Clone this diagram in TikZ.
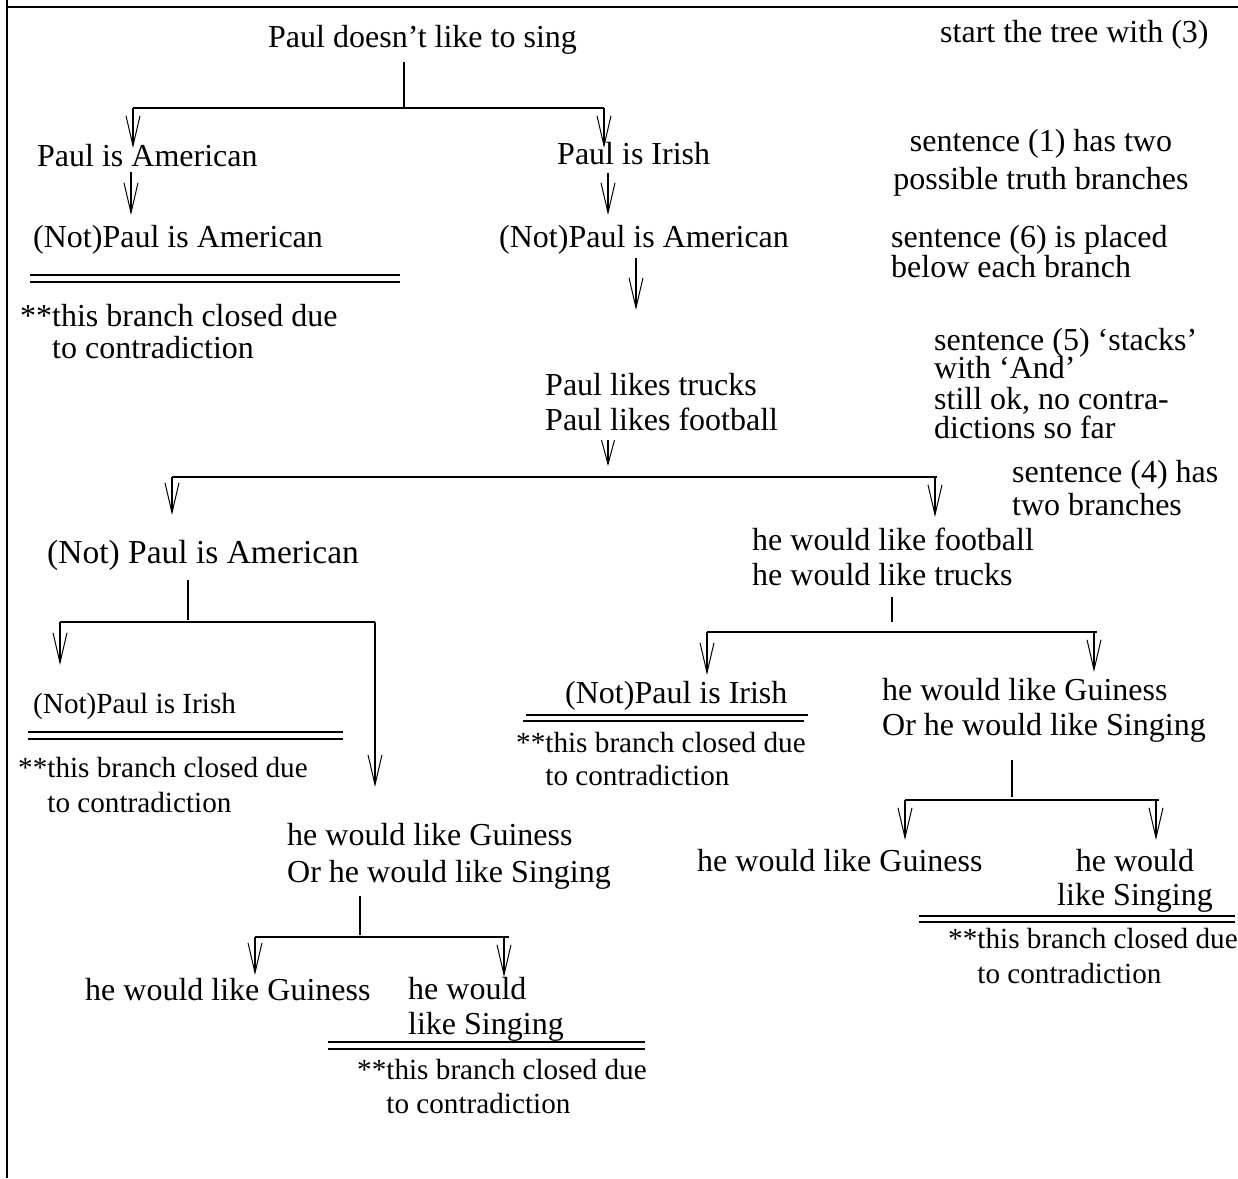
\documentclass[tikz,border=0pt]{standalone}
\usepackage{fontspec}
\setmainfont{Liberation Serif}
\usetikzlibrary{arrows.meta}
\begin{document}
\begin{tikzpicture}[x=1pt,y=-1pt,
  txt/.style={inner sep=0pt, anchor=base west, align=left, font=\fontsize{32}{35}\selectfont},
  txtc/.style={inner sep=0pt, anchor=base, align=center, font=\fontsize{32}{35}\selectfont},
  small/.style={inner sep=0pt, anchor=base west, align=left, font=\fontsize{29.2}{34}\selectfont},
  link/.style={line width=1.6pt},
  arr/.style={line width=1.6pt, -{Straight Barb[length=30pt,width=14pt,line width=1pt]}},
  arrshort/.style={line width=1.6pt, -{Straight Barb[length=24pt,width=13pt,line width=1pt]}},
  framel/.style={line width=2pt},
  closel/.style={line width=1.8pt}]
\useasboundingbox (0,0) rectangle (1238,1178);
% frame
\coordinate (fT0) at (7,0); \coordinate (fBL) at (7,1178);
\coordinate (fTL) at (7,7); \coordinate (fTR) at (1238,7);
\draw[framel] (fT0) -- (fBL);
\draw[framel] (fTL) -- (fTR);

% text nodes (multi-line nodes are placed by the baseline of their last line)
\node[txt] (t0) at (268,47) {Paul doesn’t like to sing};
\node[txt] (a1) at (940,42) {start the tree with (3)};
\node[txt] (n1) at (37,166) {Paul is American};
\node[txt] (n2) at (557,164) {Paul is Irish};
\node[txtc, font=\fontsize{32}{38}\selectfont] (a2) at (1041,189) {sentence (1) has two\\possible truth branches};
\node[txt] (n3) at (33,247) {(Not)Paul is American};
\node[txt] (n4) at (499,247) {(Not)Paul is American};
\node[txt, font=\fontsize{32}{30}\selectfont] (a3) at (891,277) {sentence (6) is placed\\below each branch};
\node[txt, font=\fontsize{32}{32}\selectfont] (c1) at (20,358) {**this branch closed due\\\hphantom{**}to contradiction};
\node[txt] (n5) at (545,430) {Paul likes trucks\\Paul likes football};
\node[txt, font=\fontsize{32}{29}\selectfont] (a4) at (934,438) {sentence (5) ‘stacks’\\[-3pt]with ‘And’\\[2pt]still ok, no contra-\\dictions so far};
\node[txt, font=\fontsize{32}{33}\selectfont] (a5) at (1012,515) {sentence (4) has\\two branches};
\node[txt, font=\fontsize{33.5}{35}\selectfont] (n6) at (47,563) {(Not) Paul is American};
\node[txt] (n7) at (752,585) {he would like football\\he would like trucks};
\node[small] (n8) at (33,713) {(Not)Paul is Irish};
\node[small, font=\fontsize{29.2}{35}\selectfont] (c2) at (18,812) {**this branch closed due\\\hphantom{**}to contradiction};
\node[txt] (n9) at (565,703) {(Not)Paul is Irish};
\node[small, font=\fontsize{29.2}{33}\selectfont] (c3) at (516,785) {**this branch closed due\\\hphantom{**}to contradiction};
\node[txt] (n10) at (882,735) {he would like Guiness\\Or he would like Singing};
\node[txt, font=\fontsize{32}{37}\selectfont] (n11) at (287,882) {he would like Guiness\\Or he would like Singing};
\node[txt] (n12) at (85,1000) {he would like Guiness};
\node[txt] (n13) at (408,1034) {he would\\like Singing};
\node[small, font=\fontsize{29.2}{34}\selectfont] (c4) at (357,1113) {**this branch closed due\\\hphantom{**}to contradiction};
\node[txt] (n14) at (697,871) {he would like Guiness};
\node[txtc, font=\fontsize{32}{34}\selectfont] (n15) at (1135,905) {he would\\like Singing};
\node[small, font=\fontsize{29.2}{35}\selectfont] (c5) at (948,983) {**this branch closed due\\\hphantom{**}to contradiction};

% connectors: top split
\coordinate (s0a) at (404,62); \coordinate (s0b) at (404,108);
\coordinate (s0L) at (133,108); \coordinate (s0R) at (604,108);
\coordinate (n1t) at (133,148); \coordinate (n2t) at (604,148);
\draw[link] (s0a) -- (s0b);
\draw[link] (s0L) -- (s0R);
\draw[arr] (s0L) -- (n1t);
\draw[arr] (s0R) -- (n2t);

% straight arrows
\coordinate (e1a) at (131,172); \coordinate (e1b) at (131,215);
\draw[arr] (e1a) -- (e1b);
\coordinate (e2a) at (608,173); \coordinate (e2b) at (608,215);
\draw[arr] (e2a) -- (e2b);
\coordinate (e3a) at (636,258); \coordinate (e3b) at (636,310);
\draw[arr] (e3a) -- (e3b);
\coordinate (e4a) at (608,440); \coordinate (e4b) at (608,466);
\draw[arrshort] (e4a) -- (e4b);

% middle split
\coordinate (s1L) at (172,477); \coordinate (s1R) at (937,477);
\coordinate (s1Ra) at (935,477);
\coordinate (n6t) at (172,515); \coordinate (n7t) at (935,517);
\draw[link] (s1L) -- (s1R);
\draw[arr] (s1L) -- (n6t);
\draw[arr] (s1Ra) -- (n7t);

% left split under (Not) Paul is American
\coordinate (s2a) at (188,580); \coordinate (s2b) at (188,620);
\coordinate (s2L) at (60,622); \coordinate (s2R) at (375,622);
\coordinate (n8t) at (60,665); \coordinate (n11t) at (375,787);
\draw[link] (s2a) -- (s2b);
\draw[link] (s2L) -- (s2R);
\draw[arr] (s2L) -- (n8t);
\draw[arr] (s2R) -- (n11t);

% bottom-left split
\coordinate (s3a) at (360,896); \coordinate (s3b) at (360,935);
\coordinate (s3L) at (255,937); \coordinate (s3R) at (509,937);
\coordinate (s3Ra) at (504,937);
\coordinate (n12t) at (255,975); \coordinate (n13t) at (504,977);
\draw[link] (s3a) -- (s3b);
\draw[link] (s3L) -- (s3R);
\draw[arr] (s3L) -- (n12t);
\draw[arr] (s3Ra) -- (n13t);

% right split under he would like trucks
\coordinate (s4a) at (892,597); \coordinate (s4b) at (892,622);
\coordinate (s4L) at (707,632); \coordinate (s4R) at (1097,632);
\coordinate (s4Ra) at (1094,632);
\coordinate (n9t) at (707,675); \coordinate (n10t) at (1094,672);
\draw[link] (s4a) -- (s4b);
\draw[link] (s4L) -- (s4R);
\draw[arr] (s4L) -- (n9t);
\draw[arr] (s4Ra) -- (n10t);

% bottom-right split
\coordinate (s5a) at (1012,760); \coordinate (s5b) at (1012,797);
\coordinate (s5L) at (905,800); \coordinate (s5R) at (1159,800);
\coordinate (s5Ra) at (1156,800);
\coordinate (n14t) at (905,840); \coordinate (n15t) at (1156,840);
\draw[link] (s5a) -- (s5b);
\draw[link] (s5L) -- (s5R);
\draw[arr] (s5L) -- (n14t);
\draw[arr] (s5Ra) -- (n15t);

% closing double lines
\coordinate (d1a) at (30,275); \coordinate (d1b) at (400,275);
\coordinate (d1c) at (30,282); \coordinate (d1d) at (400,282);
\draw[closel] (d1a) -- (d1b); \draw[closel] (d1c) -- (d1d);
\coordinate (d2a) at (28,732); \coordinate (d2b) at (343,732);
\coordinate (d2c) at (28,739); \coordinate (d2d) at (343,739);
\draw[closel] (d2a) -- (d2b); \draw[closel] (d2c) -- (d2d);
\coordinate (d3a) at (526,715); \coordinate (d3b) at (808,715);
\coordinate (d3c) at (523,721); \coordinate (d3d) at (804,721);
\draw[closel] (d3a) -- (d3b); \draw[closel] (d3c) -- (d3d);
\coordinate (d4a) at (328,1042); \coordinate (d4b) at (645,1042);
\coordinate (d4c) at (328,1049); \coordinate (d4d) at (645,1049);
\draw[closel] (d4a) -- (d4b); \draw[closel] (d4c) -- (d4d);
\coordinate (d5a) at (919,916); \coordinate (d5b) at (1235,916);
\coordinate (d5c) at (919,922); \coordinate (d5d) at (1235,922);
\draw[closel] (d5a) -- (d5b); \draw[closel] (d5c) -- (d5d);
\end{tikzpicture}
\end{document}
